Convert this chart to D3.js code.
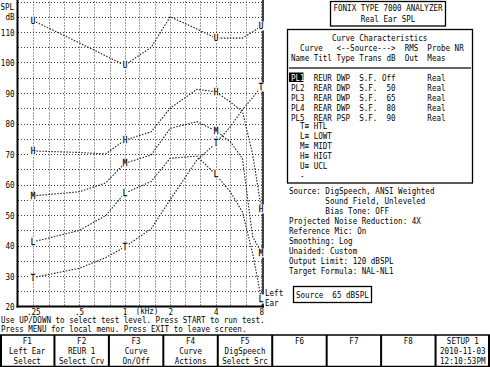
<!DOCTYPE html>
<html>
<head>
<meta charset="utf-8">
<title>Real Ear SPL</title>
<style>
  body { margin: 0; padding: 0; background: #fff; }
  svg { display: block; }
  text { font-family: "DejaVu Sans Mono", "Liberation Mono", monospace; font-size: 9.5px; fill: #000; white-space: pre; }
</style>
</head>
<body>
<div id="chart"></div>
<script src="https://cdn.jsdelivr.net/npm/d3@7/dist/d3.min.js"></script>
<script>
// curve data (kHz / dB SPL)
const freqs = [0.25, 0.5, 0.75, 1, 1.5, 2, 3, 4, 5, 6, 7, 8]
const htl  = [29.5, 32.5, 36, 39.5, 45.5, 55, 68, 73.5, 79, 84.5, 88.5, 92]
const lowt = [41.2, 44.9, 49.8, 57.1, 61, 68.6, 69.3, 63.3, 57.5, 51, 37.5, 22.5]
const midt = [56.3, 57.6, 60.5, 66.9, 69.7, 78.4, 80.6, 77.6, 74, 68.5, 43, 37.6]
const higt = [71, 70.5, 70, 74.5, 77.3, 85, 91.2, 90.4, 87, 84, 70, 52]
const ucl  = [113.7, 106.5, 102.2, 99.1, 105, 115, 111, 108, 108, 108, 110, 112]
const curveLetters = ["T", "L", "M", "H", "U"]
const letterFreqs = [0.25, 1, 4, 8]

// axes + grid
const xTicks = [0.25, 0.5, 1, 2, 4, 8]
const xTickLabels = [".25", ".5", "1", "2", "4", "8"]
const yTicks = [110, 100, 90, 80, 70, 60, 50, 40, 30, 20]
const gridFreqs = [0.25, 0.315, 0.4, 0.5, 0.63, 0.8, 1, 1.25, 1.6, 2, 2.5, 3.15, 4, 5, 6.3, 8]
const gridDb = [25, 30, 35, 40, 45, 50, 55, 60, 65, 70, 75, 80, 85, 90, 95, 100, 105, 110, 115, 120]

// right panel text
const titleLines = ["FONIX TYPE 7000 ANALYZER", "Real Ear SPL"]
const tableHead = [
  "         Curve Characteristics",
  "  Curve   <--Source--->  RMS  Probe NR",
  "Name Titl Type Trans dB  Out  Meas"
]
const plNames = ["PL1", "PL2", "PL3", "PL4", "PL5"]
const plRest = [
  "  REUR DWP  S.F. Off       Real",
  "  REAR DWP  S.F.  50       Real",
  "  REAR DWP  S.F.  65       Real",
  "  REAR DWP  S.F.  80       Real",
  "  REAR PSP  S.F.  90       Real"
]
const legendLines = ["  T\u2261 HTL", "  L\u2261 LOWT", "  M\u2261 MIDT", "  H\u2261 HIGT", "  U\u2261 UCL", "  -"]
const infoLines = [
  "Source: DigSpeech, ANSI Weighted",
  "        Sound Field, Unleveled",
  "        Bias Tone: OFF",
  "Projected Noise Reduction: 4X",
  "Reference Mic: On",
  "Smoothing: Log",
  "Unaided: Custom",
  "Output Limit: 120 dBSPL",
  "Target Formula: NAL-NL1"
]
const sourceBox = "Source  65 dBSPL"
const helpLines = [
  "Use UP/DOWN to select test level. Press START to run test.",
  "Press MENU for local menu. Press EXIT to leave screen."
]
const fKeys = [
  ["F1", "Left Ear", "Select"],
  ["F2", "REUR 1", "Select Crv"],
  ["F3", "Curve", "On/Off"],
  ["F4", "Curve", "Actions"],
  ["F5", "DigSpeech", "Select Src"],
  ["F6", "", ""],
  ["F7", "", ""],
  ["F8", "", ""],
  ["SETUP 1", "2010-11-03", "12:10:53PM"]
]

const W = 490, H = 367
const SX = 0.795 // squeeze the mono font to the narrow screen font

const svg = d3.select("#chart").append("svg")
  .attr("width", W).attr("height", H)

function txt(g, x, y, s, anchor) {
  return g.append("text")
    .attr("transform", `translate(${x},${y + 3.4}) scale(${SX},1)`)
    .attr("text-anchor", anchor || "start")
    .text(s)
}

// ---------- plot ----------
const x = d3.scaleLog().domain([0.198, 8.2]).range([18, 263])
const y = d3.scaleLinear().domain([20, 120]).range([306.5, 1.5])

const plot = svg.append("g")

plot.selectAll(".hg").data(gridDb).join("line")
  .attr("x1", x.range()[0]).attr("x2", x.range()[1])
  .attr("y1", d => Math.round(y(d)) + 0.5).attr("y2", d => Math.round(y(d)) + 0.5)
  .attr("stroke", "#3a3a3a").attr("stroke-width", 1).attr("stroke-dasharray", "1,2")

plot.selectAll(".vg").data(gridFreqs).join("line")
  .attr("x1", d => Math.round(x(d)) + 0.5).attr("x2", d => Math.round(x(d)) + 0.5)
  .attr("y1", 1.5).attr("y2", 306)
  .attr("stroke", "#3a3a3a").attr("stroke-width", 1).attr("stroke-dasharray", "1,2")

// borders
plot.append("line").attr("x1", 17.5).attr("x2", 17.5).attr("y1", 0).attr("y2", 307.5)
  .attr("stroke", "#000").attr("stroke-width", 2)
plot.append("line").attr("x1", 16.5).attr("x2", 264).attr("y1", 306.5).attr("y2", 306.5)
  .attr("stroke", "#000").attr("stroke-width", 2)
plot.append("line").attr("x1", 263).attr("x2", 263).attr("y1", 0).attr("y2", 307.5)
  .attr("stroke", "#000").attr("stroke-width", 1.5)

const series = [htl, lowt, midt, higt, ucl]
const line = d3.line().x(d => x(d[0])).y(d => y(d[1]))

series.forEach((vals, i) => {
  plot.append("path")
    .datum(freqs.map((f, j) => [f, vals[j]]))
    .attr("d", line)
    .attr("fill", "none")
    .attr("stroke", "#1a1a1a")
    .attr("stroke-width", 1.1)
    .attr("stroke-dasharray", "1.5,1.5")
})

// curve letters sit on a small white patch
series.forEach((vals, i) => {
  letterFreqs.forEach(f => {
    const v = vals[freqs.indexOf(f)]
    const lx = Math.round(x(f)), ly = Math.round(y(v))
    plot.append("rect")
      .attr("x", lx - 3).attr("y", ly - 4.5)
      .attr("width", 6).attr("height", 9).attr("fill", "#fff")
    txt(plot, lx, ly, curveLetters[i], "middle")
      .attr("stroke", "#000").attr("stroke-width", 0.25)
  })
})

// y axis
const yAxis = svg.append("g").attr("transform", "translate(14.5,0)")
  .call(d3.axisLeft(y).tickValues(yTicks).tickSize(0).tickPadding(0))
yAxis.select(".domain").remove()
yAxis.selectAll("text")
  .attr("font-family", null).attr("font-size", null)
  .attr("transform", `scale(${SX},1)`)

// x axis
const xAxis = svg.append("g").attr("transform", "translate(0,306.5)")
  .call(d3.axisBottom(x).tickValues(xTicks).tickSize(0).tickPadding(1.5)
    .tickFormat((d, i) => xTickLabels[i]))
xAxis.select(".domain").remove()
xAxis.selectAll("text")
  .attr("font-family", null).attr("font-size", null)
  .attr("transform", `scale(${SX},1)`)
  .attr("x", 0)

txt(svg, 147, 311, "(kHz)", "middle")
txt(svg, 0.5, 6.5, "SPL")
txt(svg, 14.5, 16.5, "dB", "end")
txt(svg, 265, 292.5, "Left")
txt(svg, 265, 302.5, "Ear")

// ---------- right panel ----------
const rp = svg.append("g")
rp.append("rect").attr("x", 330.5).attr("y", 1.5).attr("width", 115).attr("height", 24.5)
  .attr("fill", "none").attr("stroke", "#000").attr("stroke-width", 1.3)
titleLines.forEach((s, i) => txt(rp, 388, 8 + i * 10.5, s, "middle"))

rp.append("rect").attr("x", 287.5).attr("y", 29.5).attr("width", 185).attr("height", 153.5)
  .attr("fill", "none").attr("stroke", "#000").attr("stroke-width", 1.3)
tableHead.forEach((s, i) => txt(rp, 291, 38 + i * 10, s))
rp.append("line").attr("x1", 289).attr("x2", 471).attr("y1", 68).attr("y2", 68)
  .attr("stroke", "#333").attr("stroke-width", 1.5)

rp.append("rect").attr("x", 289).attr("y", 72.5).attr("width", 14.5).attr("height", 9.5).attr("fill", "#000")
plNames.forEach((n, i) => {
  const t = txt(rp, 291, 77.5 + i * 10, "")
  t.append("tspan").attr("fill", i === 0 ? "#fff" : "#000").text(n)
  t.append("tspan").text(plRest[i])
})
legendLines.forEach((s, i) => txt(rp, 291, 126 + i * 10, s))

infoLines.forEach((s, i) => txt(rp, 289, 191 + i * 9.9, s))

rp.append("rect").attr("x", 293.5).attr("y", 286.5).attr("width", 78).attr("height", 16)
  .attr("fill", "none").attr("stroke", "#000").attr("stroke-width", 1.3)
txt(rp, 296, 294.5, sourceBox)

// ---------- bottom ----------
helpLines.forEach((s, i) => txt(svg, 1, 320 + i * 8.8, s))

const fk = svg.append("g")
const bw = W / fKeys.length
fk.append("line").attr("x1", 0).attr("x2", W).attr("y1", 335).attr("y2", 335)
  .attr("stroke", "#000").attr("stroke-width", 1.3)
fk.append("line").attr("x1", 0).attr("x2", W).attr("y1", 366.5).attr("y2", 366.5)
  .attr("stroke", "#000").attr("stroke-width", 1.3)
d3.range(fKeys.length + 1).forEach(i => {
  const xx = Math.min(Math.max(i * bw, 1), W - 1)
  fk.append("line").attr("x1", xx).attr("x2", xx).attr("y1", 335).attr("y2", 367)
    .attr("stroke", "#000").attr("stroke-width", 2)
})
fKeys.forEach((rows, i) => {
  rows.forEach((s, j) => {
    if (s) txt(fk, i * bw + bw / 2, 340.5 + j * 10.2, s, "middle")
  })
})
</script>
</body>
</html>
